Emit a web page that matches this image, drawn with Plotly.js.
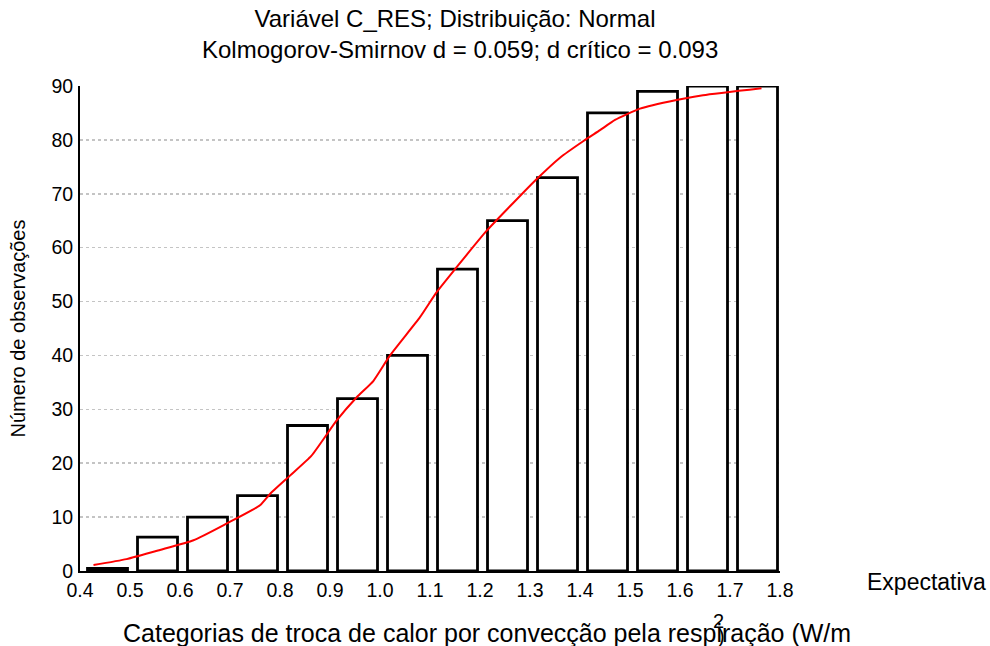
<!DOCTYPE html>
<html>
<head>
<meta charset="utf-8">
<script src="https://cdn.plot.ly/plotly-3.0.1.min.js"></script>
<style>
  html, body { margin: 0; padding: 0; background: #ffffff; }
  #chart { width: 990px; height: 646px; }
</style>
</head>
<body>
<div id="chart"></div>
<script>
// Bar categories (bin centres) and observed cumulative counts
const binCenters = [0.455, 0.555, 0.655, 0.755, 0.855, 0.955, 1.055, 1.155, 1.255, 1.355, 1.455, 1.555, 1.655, 1.755];
const observed   = [0.5, 6.3, 10, 14, 27, 32, 40, 56, 65, 73, 85, 89, 90, 90];

// Expected (normal) cumulative curve
const expX = [0.427, 0.493, 0.56, 0.627, 0.693, 0.76, 0.78, 0.82, 0.863, 0.913, 0.953, 0.987, 1.02, 1.08, 1.113, 1.15, 1.213, 1.28, 1.313, 1.36, 1.407, 1.44, 1.47, 1.52, 1.593, 1.646, 1.763];
const expY = [1.1, 2.2, 3.9, 5.7, 8.8, 12.2, 14.3, 17.7, 21.4, 27.9, 32.2, 35.3, 40.0, 47.1, 51.7, 56.0, 63.1, 69.6, 72.7, 76.7, 79.8, 81.8, 83.7, 85.8, 87.4, 88.3, 89.6];

// Tick labels
const xTickVals = [0.4, 0.5, 0.6, 0.7, 0.8, 0.9, 1.0, 1.1, 1.2, 1.3, 1.4, 1.5, 1.6, 1.7, 1.8];
const xTickText = ["0.4", "0.5", "0.6", "0.7", "0.8", "0.9", "1.0", "1.1", "1.2", "1.3", "1.4", "1.5", "1.6", "1.7", "1.8"];
const yTickVals = [0, 10, 20, 30, 40, 50, 60, 70, 80, 90];
const yTickText = ["0", "10", "20", "30", "40", "50", "60", "70", "80", "90"];

const titleLine1 = "Variável C_RES; Distribuição: Normal";
const titleLine2 = "Kolmogorov-Smirnov d = 0.059; d crítico = 0.093";
const xTitle = "Categorias de troca de calor por convecção pela respiração (W/m";
const yTitle = "Número de observações";
const legendText = "Expectativa";

const FONT = "Liberation Sans, Arial, Helvetica, sans-serif";

const traces = [
  {
    type: "bar",
    x: binCenters,
    y: observed,
    width: 0.08,
    marker: { color: "#ffffff", line: { color: "#000000", width: 2.8 } },
    showlegend: false,
    hoverinfo: "x+y"
  },
  {
    type: "scatter",
    mode: "lines",
    x: expX,
    y: expY,
    name: legendText,
    line: { color: "#ff0000", width: 2, shape: "spline", smoothing: 0.5 },
    showlegend: false
  }
];

const layout = {
  width: 990,
  height: 646,
  paper_bgcolor: "#ffffff",
  plot_bgcolor: "#ffffff",
  margin: { l: 80, r: 210, t: 86, b: 75 },
  font: { family: FONT, color: "#000000", size: 19 },
  showlegend: false,
  bargap: 0,
  title: {
    text: titleLine1,
    font: { family: FONT, size: 24, color: "#000000" },
    x: 455 / 990,
    xanchor: "center",
    xref: "container",
    y: 1 - 19 / 646,
    yanchor: "middle",
    yref: "container"
  },
  xaxis: {
    range: [0.4, 1.8],
    tickmode: "array",
    tickvals: xTickVals,
    ticktext: xTickText,
    showgrid: false,
    zeroline: false,
    showline: true,
    linecolor: "#000000",
    linewidth: 2,
    ticks: "",
    ticklabelstandoff: 1,
    tickfont: { family: FONT, size: 19.5, color: "#000000" },
    fixedrange: true
  },
  yaxis: {
    range: [0, 90],
    tickmode: "array",
    tickvals: yTickVals,
    ticktext: yTickText,
    showgrid: true,
    gridcolor: "#c4c4c4",
    gridwidth: 1.5,
    griddash: "dot",
    zeroline: false,
    showline: true,
    linecolor: "#000000",
    linewidth: 2,
    ticks: "",
    ticklabelstandoff: 1,
    tickfont: { family: FONT, size: 19.5, color: "#000000" },
    title: {
      text: yTitle,
      font: { family: FONT, size: 20, color: "#000000" },
      standoff: 20
    },
    automargin: false,
    fixedrange: true
  },
  annotations: [
    {
      text: titleLine2,
      xref: "paper", yref: "paper",
      x: (460 - 80) / 700, y: (571 - 49) / 485,
      xanchor: "center", yanchor: "middle",
      showarrow: false,
      font: { family: FONT, size: 24, color: "#000000" }
    },
    {
      text: xTitle,
      xref: "paper", yref: "paper",
      x: (487 - 80) / 700, y: (571 - 633) / 485,
      xanchor: "center", yanchor: "middle",
      showarrow: false,
      font: { family: FONT, size: 25, color: "#000000" }
    },
    {
      text: "2",
      xref: "paper", yref: "paper",
      x: (718 - 80) / 700, y: (571 - 621) / 485,
      xanchor: "center", yanchor: "middle",
      showarrow: false,
      font: { family: FONT, size: 20, color: "#000000" }
    },
    {
      text: ")",
      xref: "paper", yref: "paper",
      x: (721 - 80) / 700, y: (571 - 636) / 485,
      xanchor: "center", yanchor: "middle",
      showarrow: false,
      font: { family: FONT, size: 20, color: "#000000" }
    },
    {
      text: legendText,
      xref: "paper", yref: "paper",
      x: (926 - 80) / 700, y: (571 - 582) / 485,
      xanchor: "center", yanchor: "middle",
      showarrow: false,
      font: { family: FONT, size: 23, color: "#000000" }
    }
  ]
};

Plotly.newPlot("chart", traces, layout, { displayModeBar: false, staticPlot: true });
</script>
</body>
</html>
